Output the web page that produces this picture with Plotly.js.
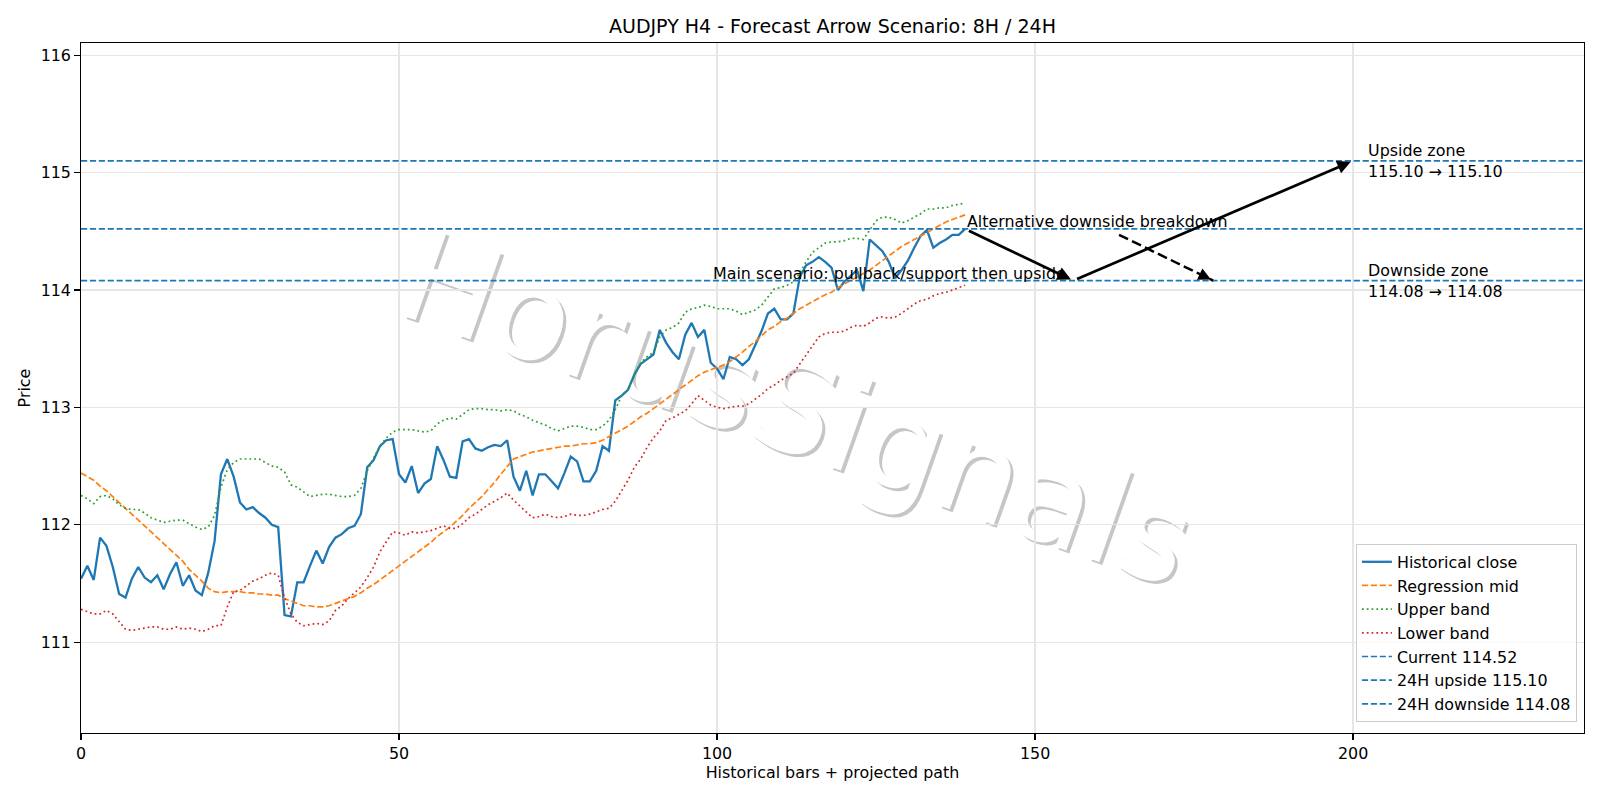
<!DOCTYPE html>
<html>
<head>
<meta charset="utf-8">
<script src="https://cdn.plot.ly/plotly-3.0.1.min.js"></script>
<style>
  html, body { margin: 0; padding: 0; background: #ffffff; }
  #chart { width: 1600px; height: 800px; }
</style>
</head>
<body>
<div id="chart"></div>
<script>
// AUDJPY H4 closes and regression channel
const closeValues = [
  111.54, 111.65, 111.53, 111.89, 111.82, 111.64, 111.41, 111.38, 111.54, 111.64,
  111.55, 111.51, 111.57, 111.45, 111.58, 111.68, 111.48, 111.57, 111.44, 111.40,
  111.59, 111.86, 112.43, 112.56, 112.41, 112.19, 112.13, 112.15, 112.10, 112.06,
  112.00, 111.98, 111.23, 111.22, 111.51, 111.51, 111.65, 111.78, 111.67, 111.81,
  111.89, 111.92, 111.97, 111.99, 112.09, 112.49, 112.55, 112.67, 112.72, 112.73,
  112.43, 112.36, 112.50, 112.27, 112.35, 112.39, 112.67, 112.55, 112.41, 112.40,
  112.71, 112.73, 112.65, 112.63, 112.66, 112.68, 112.67, 112.72, 112.41, 112.29,
  112.46, 112.25, 112.43, 112.43, 112.37, 112.31, 112.44, 112.58, 112.54, 112.37,
  112.37, 112.46, 112.67, 112.63, 113.06, 113.10, 113.15, 113.28, 113.37, 113.41,
  113.45, 113.66, 113.55, 113.47, 113.41, 113.62, 113.72, 113.60, 113.66, 113.38,
  113.33, 113.24, 113.43, 113.41, 113.36, 113.41, 113.53, 113.65, 113.80, 113.84,
  113.75, 113.75, 113.80, 114.11, 114.21, 114.24, 114.28, 114.24, 114.19, 114.00,
  114.07, 114.12, 114.17, 113.99, 114.43, 114.38, 114.33, 114.24, 114.10, 114.17,
  114.25, 114.36, 114.46, 114.51, 114.36, 114.40, 114.43, 114.47, 114.47, 114.52
];

const regressionMid = [
  112.44, 112.41, 112.38, 112.33, 112.29, 112.24, 112.19, 112.14, 112.09, 112.04,
  111.99, 111.94, 111.89, 111.84, 111.79, 111.74, 111.69, 111.62, 111.57, 111.52,
  111.46, 111.43, 111.42, 111.43, 111.43, 111.43, 111.42, 111.42, 111.41, 111.41,
  111.40, 111.40, 111.37, 111.35, 111.33, 111.31, 111.31, 111.30, 111.30, 111.31,
  111.33, 111.35, 111.37, 111.39, 111.42, 111.46, 111.49, 111.53, 111.57, 111.61,
  111.65, 111.69, 111.73, 111.77, 111.81, 111.85, 111.90, 111.94, 111.98, 112.03,
  112.08, 112.14, 112.19, 112.24, 112.30, 112.36, 112.43, 112.50, 112.56, 112.58,
  112.60, 112.62, 112.63, 112.64, 112.65, 112.66, 112.67, 112.67, 112.68, 112.69,
  112.69, 112.70, 112.72, 112.75, 112.78, 112.81, 112.84, 112.88, 112.92, 112.95,
  112.99, 113.03, 113.07, 113.11, 113.15, 113.19, 113.23, 113.27, 113.30, 113.32,
  113.34, 113.36, 113.39, 113.43, 113.47, 113.52, 113.56, 113.61, 113.66, 113.69,
  113.73, 113.76, 113.80, 113.84, 113.87, 113.90, 113.93, 113.96, 113.98, 114.02,
  114.05, 114.08, 114.11, 114.14, 114.17, 114.21, 114.25, 114.29, 114.33, 114.37,
  114.40, 114.43, 114.46, 114.49, 114.52, 114.55, 114.58, 114.60, 114.62, 114.64
];

const upperBand = [
  112.25, 112.22, 112.18, 112.24, 112.25, 112.22, 112.17, 112.14, 112.13, 112.13,
  112.10, 112.06, 112.04, 112.02, 112.03, 112.04, 112.04, 112.01, 111.98, 111.96,
  111.98, 112.08, 112.32, 112.47, 112.53, 112.56, 112.56, 112.56, 112.56, 112.53,
  112.50, 112.49, 112.45, 112.34, 112.32, 112.28, 112.24, 112.25, 112.26, 112.26,
  112.25, 112.24, 112.24, 112.25, 112.31, 112.46, 112.57, 112.67, 112.74, 112.79,
  112.81, 112.81, 112.81, 112.80, 112.79, 112.80, 112.86, 112.89, 112.91, 112.90,
  112.94, 112.98, 112.99, 112.99, 112.98, 112.98, 112.97, 112.98, 112.97, 112.94,
  112.92, 112.89, 112.87, 112.85, 112.82, 112.80, 112.82, 112.84, 112.84, 112.83,
  112.81, 112.81, 112.84, 112.89, 112.98, 113.10, 113.15, 113.28, 113.38, 113.43,
  113.47, 113.60, 113.66, 113.68, 113.72, 113.81, 113.84, 113.85, 113.87, 113.86,
  113.84, 113.84, 113.84, 113.82, 113.79, 113.81, 113.83, 113.87, 113.94, 114.01,
  114.02, 114.04, 114.07, 114.14, 114.24, 114.32, 114.36, 114.40, 114.41, 114.41,
  114.42, 114.44, 114.44, 114.43, 114.51, 114.59, 114.62, 114.62, 114.60, 114.57,
  114.59, 114.62, 114.65, 114.69, 114.69, 114.70, 114.70, 114.72, 114.73, 114.74
];

const lowerBand = [
  111.28, 111.26, 111.24, 111.24, 111.27, 111.24, 111.17, 111.11, 111.10, 111.11,
  111.12, 111.13, 111.13, 111.11, 111.11, 111.13, 111.11, 111.12, 111.11, 111.09,
  111.11, 111.14, 111.14, 111.30, 111.43, 111.44, 111.48, 111.52, 111.54, 111.57,
  111.59, 111.57, 111.38, 111.24, 111.17, 111.14, 111.15, 111.16, 111.15, 111.18,
  111.27, 111.31, 111.37, 111.42, 111.47, 111.55, 111.64, 111.77, 111.86, 111.94,
  111.93, 111.91, 111.94, 111.93, 111.94, 111.95, 111.97, 111.99, 111.97, 111.97,
  112.01, 112.06, 112.09, 112.13, 112.17, 112.20, 112.23, 112.27, 112.21, 112.16,
  112.11, 112.06, 112.07, 112.09, 112.07, 112.06, 112.07, 112.09, 112.08, 112.08,
  112.09, 112.11, 112.13, 112.14, 112.20, 112.29, 112.38, 112.49, 112.56, 112.66,
  112.74, 112.80, 112.89, 112.91, 112.94, 112.97, 113.03, 113.10, 113.06, 113.02,
  113.00, 112.99, 113.00, 113.01, 113.01, 113.03, 113.07, 113.11, 113.16, 113.19,
  113.23, 113.26, 113.29, 113.37, 113.45, 113.53, 113.60, 113.63, 113.64, 113.64,
  113.65, 113.68, 113.70, 113.69, 113.72, 113.76, 113.77, 113.76, 113.77, 113.80,
  113.84, 113.88, 113.91, 113.92, 113.95, 113.97, 113.98, 114.00, 114.02, 114.04
];

// Reference levels: current price and the 24H zones
const levelNames  = ['Current 114.52', '24H upside 115.10', '24H downside 114.08'];
const levelValues = [114.52, 115.10, 114.08];

// Projected main path (now -> pullback -> upside) and the alternative breakdown leg
const mainPathX = [139, 156, 200];
const mainPathY = [114.52, 114.08, 115.10];
const altPathX  = [163.2, 178];
const altPathY  = [114.47, 114.08];

const xMax = 236.3;
const yRange = [110.226, 116.104];

const FONT = 'DejaVu Sans, Liberation Sans, sans-serif';
const FS = 15.9;
const bars = closeValues.map((_, i) => i);

const traces = [
  { x: bars, y: closeValues, name: 'Historical close', type: 'scatter', mode: 'lines',
    line: { color: '#1f77b4', width: 2.3 } },
  { x: bars, y: regressionMid, name: 'Regression mid', type: 'scatter', mode: 'lines',
    line: { color: '#ff7f0e', width: 1.7, dash: '6.2px,2.7px' } },
  { x: bars, y: upperBand, name: 'Upper band', type: 'scatter', mode: 'lines',
    line: { color: '#2ca02c', width: 1.7, dash: '1.8px,3px' } },
  { x: bars, y: lowerBand, name: 'Lower band', type: 'scatter', mode: 'lines',
    line: { color: '#d62728', width: 1.7, dash: '1.8px,3px' } }
];

levelValues.forEach((v, i) => {
  traces.push({
    x: [0, xMax], y: [v, v], name: levelNames[i], type: 'scatter', mode: 'lines',
    line: { color: '#1f77b4', width: 1.7, dash: '6.2px,2.7px' }
  });
});

// dashed body of the alternative arrow
traces.push({
  x: altPathX, y: altPathY, type: 'scatter', mode: 'lines', showlegend: false,
  hoverinfo: 'skip', line: { color: '#000000', width: 2.5, dash: '10px,4.4px' }
});

const arrowStyle = {
  xref: 'x', yref: 'y', axref: 'x', ayref: 'y', text: '', showarrow: true,
  arrowhead: 2, arrowsize: 1, arrowwidth: 2.7, arrowcolor: '#000000'
};

const annotations = [];
for (let i = 0; i < mainPathX.length - 1; i++) {
  annotations.push(Object.assign({}, arrowStyle, {
    x: mainPathX[i + 1], y: mainPathY[i + 1], ax: mainPathX[i], ay: mainPathY[i],
    standoff: 2.5, startstandoff: 2.5
  }));
}
// head of the dashed alternative arrow: a short solid tail hidden under the head
{
  const n = altPathX.length;
  const fx = altPathX[n - 1], fy = altPathY[n - 1];
  const t = 0.08;
  annotations.push(Object.assign({}, arrowStyle, {
    x: fx, y: fy,
    ax: fx - t * (fx - altPathX[n - 2]), ay: fy - t * (fy - altPathY[n - 2]),
    arrowwidth: 2.5, standoff: 2.5
  }));
}

const txtFont = { family: FONT, size: FS, color: '#000000' };
annotations.push(
  { xref: 'x', yref: 'y', x: mainPathX[0], y: mainPathY[0], text: 'Alternative downside breakdown',
    showarrow: false, xanchor: 'left', yanchor: 'bottom', yshift: -4.5, font: txtFont },
  { xref: 'x', yref: 'y', x: 155.2, y: mainPathY[1], text: 'Main scenario: pullback/support then upside',
    showarrow: false, xanchor: 'right', yanchor: 'bottom', yshift: -4.5, font: txtFont },
  { xref: 'x', yref: 'y', x: 202, y: levelValues[1],
    text: 'Upside zone<br>' + levelValues[1].toFixed(2) + ' \u2192 ' + levelValues[1].toFixed(2),
    showarrow: false, xanchor: 'left', yanchor: 'middle', align: 'left', font: txtFont },
  { xref: 'x', yref: 'y', x: 202, y: levelValues[2],
    text: 'Downside zone<br>' + levelValues[2].toFixed(2) + ' \u2192 ' + levelValues[2].toFixed(2),
    showarrow: false, xanchor: 'left', yanchor: 'middle', align: 'left', font: txtFont }
);

// Brand watermark: grey drop shadow under a white face, drawn beneath grid and data
const wmX = 0.4784, wmY = 0.4826, wmW = 0.3, wmH = 0.3;
function watermark(dx, dy, color) {
  return {
    type: 'rect', xref: 'paper', yref: 'paper', layer: 'below',
    x0: wmX - wmW + dx, x1: wmX + wmW + dx, y0: wmY - wmH + dy, y1: wmY + wmH + dy,
    line: { width: 0 }, fillcolor: 'rgba(0,0,0,0)',
    label: { text: 'HorusSignals', textangle: 19.5, textposition: 'middle center',
             font: { family: FONT, size: 127, color: color } }
  };
}
const shapes = [
  watermark(3 / 1503, -3 / 690, '#c6c6c6'),
  watermark(0, 0, '#ffffff')
];

const axisCommon = {
  showline: true, mirror: true, linecolor: '#000000', linewidth: 1.25,
  ticks: 'outside', ticklen: 5.6, tickwidth: 1.25, tickcolor: '#000000',
  showgrid: true, gridcolor: '#e6e6e6', gridwidth: 1.25, zeroline: false,
  tickfont: { family: FONT, size: FS, color: '#000000' }
};

const layout = {
  width: 1600, height: 800,
  margin: { l: 81, r: 16, t: 43, b: 67 },
  paper_bgcolor: '#ffffff', plot_bgcolor: '#ffffff',
  font: { family: FONT, color: '#000000' },
  title: { text: 'AUDJPY H4 - Forecast Arrow Scenario: 8H / 24H', x: 0.5, xref: 'paper',
           y: 1 - 26.5 / 800, yref: 'container', yanchor: 'middle',
           font: { family: FONT, size: 19, color: '#000000' } },
  xaxis: Object.assign({}, axisCommon, {
    range: [0, xMax], tickmode: 'linear', tick0: 0, dtick: 50,
    title: { text: 'Historical bars + projected path', standoff: 5,
             font: { family: FONT, size: FS, color: '#000000' } }
  }),
  yaxis: Object.assign({}, axisCommon, {
    range: yRange, tickmode: 'linear', tick0: 0, dtick: 1,
    title: { text: 'Price', standoff: 6, font: { family: FONT, size: FS, color: '#000000' } }
  }),
  showlegend: true,
  legend: {
    x: 0.9953, y: 0.016, xanchor: 'right', yanchor: 'bottom',
    bgcolor: 'rgba(255,255,255,0.8)', bordercolor: '#cccccc', borderwidth: 1,
    font: { family: FONT, size: FS, color: '#000000' }, itemwidth: 30
  },
  annotations: annotations,
  shapes: shapes
};

Plotly.newPlot('chart', traces, layout, { displayModeBar: false, staticPlot: true });
</script>
</body>
</html>
